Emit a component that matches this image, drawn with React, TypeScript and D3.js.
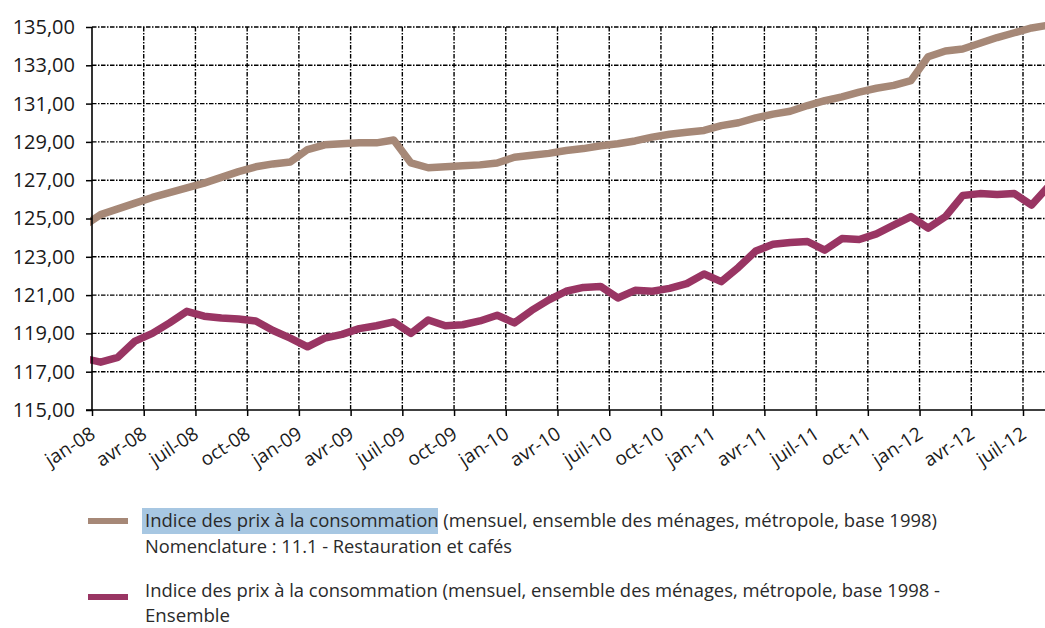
import React, { useEffect, useRef } from 'react';
import * as d3 from 'd3';

// Monthly points (plotted mid-month), déc-07 is only there so the line reaches the axis
const months = [
  'déc-07',
  'jan-08', 'fév-08', 'mar-08', 'avr-08', 'mai-08', 'juin-08', 'juil-08', 'août-08', 'sep-08', 'oct-08', 'nov-08', 'déc-08',
  'jan-09', 'fév-09', 'mar-09', 'avr-09', 'mai-09', 'juin-09', 'juil-09', 'août-09', 'sep-09', 'oct-09', 'nov-09', 'déc-09',
  'jan-10', 'fév-10', 'mar-10', 'avr-10', 'mai-10', 'juin-10', 'juil-10', 'août-10', 'sep-10', 'oct-10', 'nov-10', 'déc-10',
  'jan-11', 'fév-11', 'mar-11', 'avr-11', 'mai-11', 'juin-11', 'juil-11', 'août-11', 'sep-11', 'oct-11', 'nov-11', 'déc-11',
  'jan-12', 'fév-12', 'mar-12', 'avr-12', 'mai-12', 'juin-12', 'juil-12', 'août-12',
];

// 11.1 - Restauration et cafés
const restauration = [
  124.6,
  125.2, 125.5, 125.8, 126.1, 126.35, 126.6, 126.85, 127.15, 127.45, 127.7, 127.85, 127.95,
  128.6, 128.85, 128.9, 128.95, 128.95, 129.1, 127.9, 127.65, 127.7, 127.75, 127.8, 127.9,
  128.2, 128.3, 128.4, 128.55, 128.65, 128.8, 128.9, 129.05, 129.25, 129.4, 129.5, 129.6,
  129.85, 130.0, 130.25, 130.45, 130.6, 130.9, 131.15, 131.35, 131.6, 131.8, 131.95, 132.2,
  133.45, 133.75, 133.85, 134.15, 134.45, 134.7, 134.95, 135.1,
];

// Ensemble
const ensemble = [
  117.7,
  117.5, 117.75, 118.6, 119.0, 119.55, 120.15, 119.9, 119.8, 119.75, 119.65, 119.15, 118.75,
  118.3, 118.75, 118.95, 119.25, 119.4, 119.6, 119.0, 119.7, 119.4, 119.45, 119.65, 119.95,
  119.55, 120.2, 120.75, 121.2, 121.4, 121.45, 120.85, 121.25, 121.2, 121.35, 121.6, 122.1,
  121.7, 122.45, 123.3, 123.65, 123.75, 123.8, 123.35, 123.95, 123.9, 124.2, 124.65, 125.1,
  124.5, 125.1, 126.2, 126.3, 126.25, 126.3, 125.7, 126.7,
];

const tickLabels = [
  'jan-08', 'avr-08', 'juil-08', 'oct-08',
  'jan-09', 'avr-09', 'juil-09', 'oct-09',
  'jan-10', 'avr-10', 'juil-10', 'oct-10',
  'jan-11', 'avr-11', 'juil-11', 'oct-11',
  'jan-12', 'avr-12', 'juil-12',
];

const yTicks = [115, 117, 119, 121, 123, 125, 127, 129, 131, 133, 135];

const BROWN = '#a68877';
const PURPLE = '#993563';
const GRID_DASH = '4.5,1.5,1.5,1.5';

const App: React.FC = () => {
  const svgRef = useRef<SVGSVGElement>(null);

  useEffect(() => {
    if (!svgRef.current) return;
    const svg = d3.select(svgRef.current);
    svg.selectAll('*').remove();

    const width = 1045;
    const left = 92;
    const top = 27;
    const bottom = 410;

    // month index: 0 = start of jan-08, 54 = start of juil-12
    const x = d3.scaleLinear().domain([0, 54]).range([left, 1023]);
    const y = d3.scaleLinear().domain([115, 135]).range([bottom, top]);
    const monthPos = (i: number) => x(i - 1 + 0.5);

    svg.append('defs').append('clipPath').attr('id', 'plot-clip')
      .append('rect').attr('x', left - 2).attr('y', 0).attr('width', width - left + 2).attr('height', bottom + 4);

    // Grid
    const grid = svg.append('g').attr('stroke', '#000').attr('stroke-width', 1.4).attr('stroke-dasharray', GRID_DASH);
    grid.selectAll('line.h')
      .data(yTicks.filter(v => v !== 115))
      .join('line')
      .attr('class', 'h')
      .attr('x1', left).attr('x2', width)
      .attr('y1', d => y(d)).attr('y2', d => y(d));
    grid.selectAll('line.v')
      .data(tickLabels.slice(1).map((_, i) => (i + 1) * 3))
      .join('line')
      .attr('class', 'v')
      .attr('x1', d => x(d)).attr('x2', d => x(d))
      .attr('y1', top).attr('y2', bottom);

    // Series
    const line = d3.line<number>()
      .x((_, i) => monthPos(i))
      .y(d => y(d));

    const series = svg.append('g').attr('clip-path', 'url(#plot-clip)');
    [
      { values: restauration, color: BROWN },
      { values: ensemble, color: PURPLE },
    ].forEach(s => {
      series.append('path')
        .datum(s.values)
        .attr('fill', 'none')
        .attr('stroke', s.color)
        .attr('stroke-width', 7.5)
        .attr('stroke-linejoin', 'round')
        .attr('d', line);
    });

    // Y axis
    const yAxis = svg.append('g')
      .attr('transform', `translate(${left},0)`)
      .call(
        d3.axisLeft(y)
          .tickValues(yTicks)
          .tickSize(6)
          .tickSizeOuter(0)
          .tickPadding(11)
          .tickFormat(d => d3.format('.2f')(d as number).replace('.', ','))
      );
    yAxis.select('.domain').remove();
    yAxis.selectAll('line').attr('stroke', '#000').attr('stroke-width', 1.5);
    yAxis.selectAll('text')
      .attr('font-family', '"Open Sans", sans-serif')
      .attr('font-size', 20)
      .attr('fill', '#1a1a1a');

    // X axis
    const xAxis = svg.append('g')
      .attr('transform', `translate(0,${bottom})`)
      .call(
        d3.axisBottom(x)
          .tickValues(tickLabels.map((_, i) => i * 3))
          .tickSize(6)
          .tickSizeOuter(0)
          .tickFormat((_, i) => tickLabels[i])
      );
    xAxis.select('.domain').remove();
    xAxis.selectAll('line').attr('stroke', '#000').attr('stroke-width', 1.5);
    xAxis.selectAll('text')
      .attr('x', 0)
      .attr('y', 0)
      .attr('dy', null)
      .attr('text-anchor', 'end')
      .attr('transform', 'translate(4,27) rotate(-33)')
      .attr('font-family', '"Open Sans", sans-serif')
      .attr('font-size', 19)
      .attr('fill', '#1a1a1a');

    // Axis lines
    svg.append('line')
      .attr('x1', left).attr('x2', left)
      .attr('y1', top).attr('y2', bottom)
      .attr('stroke', '#000').attr('stroke-width', 1.6);
    svg.append('line')
      .attr('x1', left - 6).attr('x2', width)
      .attr('y1', bottom).attr('y2', bottom)
      .attr('stroke', '#000').attr('stroke-width', 1.6);

    // Legend
    const legend = svg.append('g')
      .attr('font-family', '"Open Sans", sans-serif')
      .attr('font-size', 18)
      .attr('fill', '#2a2a2a');

    legend.append('rect')
      .attr('x', 142).attr('y', 508).attr('width', 296).attr('height', 26)
      .attr('fill', '#a7c7e2');

    legend.append('rect').attr('x', 88).attr('y', 518).attr('width', 40).attr('height', 6).attr('fill', BROWN);
    legend.append('rect').attr('x', 88).attr('y', 594).attr('width', 40).attr('height', 6).attr('fill', PURPLE);

    const legendLines = [
      { text: 'Indice des prix à la consommation (mensuel, ensemble des ménages, métropole, base 1998)', y: 527, w: 792 },
      { text: 'Nomenclature : 11.1 - Restauration et cafés', y: 553, w: 367 },
      { text: 'Indice des prix à la consommation (mensuel, ensemble des ménages, métropole, base 1998 -', y: 597, w: 795 },
      { text: 'Ensemble', y: 622, w: 85 },
    ];
    legend.selectAll('text')
      .data(legendLines)
      .join('text')
      .attr('x', 145)
      .attr('y', d => d.y)
      .attr('textLength', d => d.w)
      .attr('lengthAdjust', 'spacingAndGlyphs')
      .text(d => d.text);
  }, []);

  return (
    <svg
      ref={svgRef}
      width={1045}
      height={628}
      style={{ position: 'absolute', left: 0, top: 0, background: '#fff' }}
    />
  );
};

export default App;
